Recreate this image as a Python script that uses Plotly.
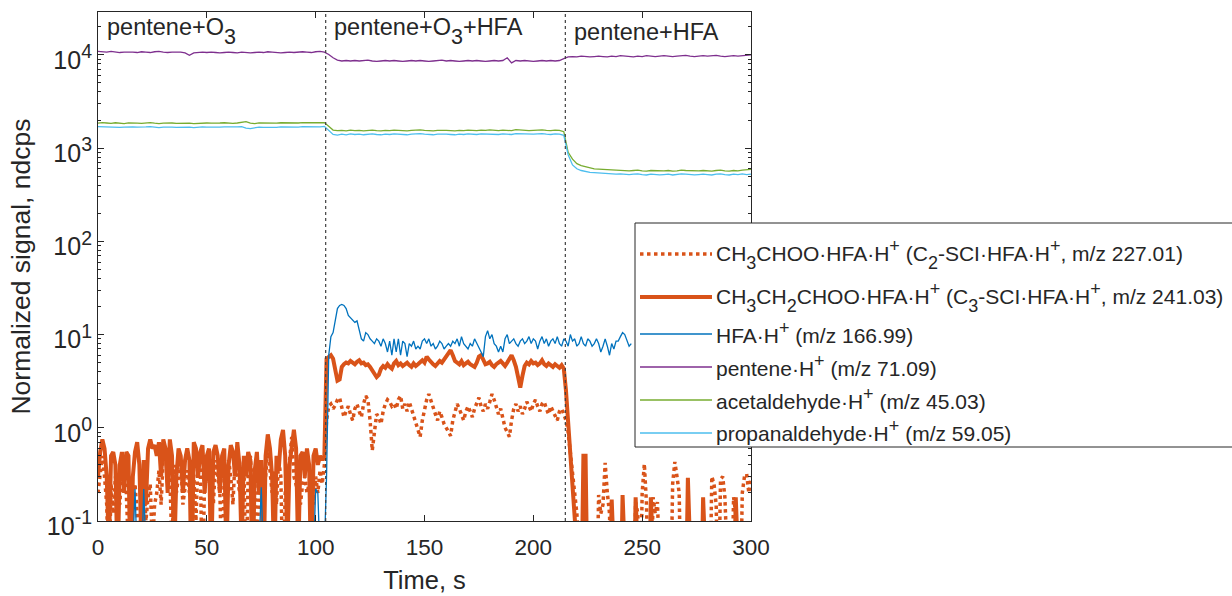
import plotly.graph_objects as go

# ---------------- data ----------------
series_names = [
    "CH<sub>3</sub>CHOO·HFA·H<sup>+</sup> (C<sub>2</sub>-SCI·HFA·H<sup>+</sup>, m/z 227.01)",
    "CH<sub>3</sub>CH<sub>2</sub>CHOO·HFA·H<sup>+</sup> (C<sub>3</sub>-SCI·HFA·H<sup>+</sup>, m/z 241.03)",
    "HFA·H<sup>+</sup> (m/z 166.99)",
    "pentene·H<sup>+</sup> (m/z 71.09)",
    "acetaldehyde·H<sup>+</sup> (m/z 45.03)",
    "propanaldehyde·H<sup>+</sup> (m/z 59.05)",
]
phase_labels = ["pentene+O<sub>3</sub>", "pentene+O<sub>3</sub>+HFA", "pentene+HFA"]
phase_starts = [0, 104.6, 214.7]
phase_bounds = [104.6, 214.7]

x_ticks = [0, 50, 100, 150, 200, 250, 300]
y_ticks = [0.1, 1, 10, 100, 1000, 10000]
y_ticktext = ["10<sup>-1</sup>", "10<sup>0</sup>", "10<sup>1</sup>", "10<sup>2</sup>",
              "10<sup>3</sup>", "10<sup>4</sup>"]

# 1-s sampled SCI signals (t = 0..300 s)
c2_sci = [
    0.2, 0.35, 0.5, 0.3, 0.15, 0.02, 0.25, 0.12, 0.3, 0.2,
    0.15, 0.35, 0.45, 0.2, 0.05, 0.3, 0.15, 0.25, 0.12, 0.02,
    0.2, 0.28, 0.1, 0.18, 0.25, 0.05, 0.15, 0.2, 0.35, 0.15,
    0.5, 0.55, 0.25, 0.3, 0.05, 0.4, 0.2, 0.3, 0.45, 0.15,
    0.25, 0.35, 0.2, 0.45, 0.3, 0.1, 0.5, 0.35, 0.02, 0.3,
    0.4, 0.25, 0.35, 0.15, 0.45, 0.3, 0.2, 0.02, 0.35, 0.25,
    0.45, 0.3, 0.15, 0.5, 0.35, 0.2, 0.3, 0.45, 0.02, 0.35,
    0.5, 0.2, 0.3, 0.05, 0.25, 0.4, 0.15, 0.3, 0.6, 0.35,
    0.2, 0.35, 0.15, 0.45, 0.3, 0.02, 0.2, 0.25, 0.5, 0.8,
    0.3, 0.25, 0.2, 0.15, 0.25, 0.3, 0.2, 0.25, 0.3, 0.15,
    0.3, 0.2, 0.35, 0.25, 0.4,
    1.2, 1.7, 1.8, 1.6, 1.75, 2.0, 2.1, 1.6, 1.3, 1.5,
    1.7, 1.4, 1.2, 1.6, 1.8, 1.5, 1.3, 1.8, 2.2, 2.0,
    1.2, 0.57, 1.0, 1.4, 1.3, 1.1, 1.5, 1.8, 2.0, 1.9,
    1.7, 1.8, 1.6, 2.0, 2.2, 1.6, 1.8, 1.5, 1.9, 1.6,
    1.4, 1.2, 0.95, 0.8, 1.2, 1.6, 2.0, 2.3, 1.9, 1.6,
    1.4, 1.2, 1.5, 1.3, 1.1, 1.0, 0.9, 0.82, 1.2, 1.5,
    1.8, 1.6, 1.4, 1.2, 1.5, 1.7, 1.5, 1.3, 1.6, 1.9,
    2.1, 1.7, 1.5, 1.8, 1.6, 1.9, 2.3, 2.0, 1.7, 1.4,
    1.6, 1.3, 1.0, 0.9, 0.8, 1.2, 1.6, 1.8, 1.5, 1.7,
    1.4, 1.6, 1.9, 1.7, 1.5, 1.8, 2.0, 1.7, 1.5, 1.8,
    1.9, 1.6, 1.4, 1.7, 1.5, 1.3, 1.2, 1.5, 1.6, 1.4,
    1.2, 0.9, 0.55, 0.35, 0.2, 0.12, 0.05, 0.01, 0.01, 0.01,
    0.01, 0.01, 0.01, 0.01, 0.01, 0.19, 0.12, 0.15, 0.42, 0.2,
    0.12, 0.01, 0.01, 0.01, 0.01, 0.01, 0.01, 0.01, 0.01, 0.01,
    0.01, 0.01, 0.16, 0.12, 0.01, 0.2, 0.41, 0.15, 0.01, 0.01,
    0.18, 0.12, 0.16, 0.01, 0.01, 0.01, 0.01, 0.01, 0.01, 0.25,
    0.43, 0.3, 0.2, 0.01, 0.01, 0.01, 0.01, 0.01, 0.01, 0.01,
    0.01, 0.01, 0.01, 0.01, 0.01, 0.01, 0.01, 0.3, 0.25, 0.15,
    0.01, 0.28, 0.3, 0.18, 0.01, 0.01, 0.01, 0.18, 0.12, 0.01,
    0.01, 0.2, 0.3, 0.32, 0.2, 0.3,
]
c3_sci = [
    0.3, 0.55, 0.75, 0.6, 0.3, 0.05, 0.5, 0.55, 0.4, 0.03,
    0.4, 0.55, 0.2, 0.55, 0.5, 0.02, 0.3, 0.55, 0.7, 0.4,
    0.05, 0.45, 0.15, 0.6, 0.75, 0.6, 0.65, 0.5, 0.7, 0.3,
    0.75, 0.6, 0.2, 0.75, 0.5, 0.04, 0.3, 0.6, 0.5, 0.2,
    0.45, 0.6, 0.45, 0.02, 0.7, 0.6, 0.3, 0.55, 0.65, 0.2,
    0.5, 0.6, 0.03, 0.55, 0.65, 0.5, 0.2, 0.5, 0.6, 0.04,
    0.4, 0.65, 0.55, 0.3, 0.7, 0.4, 0.05, 0.5, 0.3, 0.55,
    0.45, 0.02, 0.35, 0.55, 0.2, 0.45, 0.02, 0.5, 0.85, 0.6,
    0.3, 0.03, 0.5, 0.35, 0.75, 0.95, 0.5, 0.05, 0.4, 0.6,
    0.95, 0.6, 0.04, 0.5, 0.55, 0.3, 0.6, 0.4, 0.02, 0.5,
    0.6, 0.4, 0.5, 0.45, 0.5,
    5.5, 5.8, 6.0, 5.5, 4.0, 3.2, 3.3, 4.5, 4.8, 5.0,
    4.9, 5.2, 5.0, 4.8, 5.1, 5.3, 4.9, 5.0, 4.7, 4.8,
    4.5, 4.2, 3.8, 3.5, 3.7, 4.3, 4.6, 4.4, 4.8, 4.5,
    4.3, 4.9, 5.2, 4.7, 4.9, 4.6, 4.8, 5.0, 4.7, 4.5,
    4.9, 4.6, 4.8, 5.1, 5.3, 5.0, 5.8, 5.4, 5.0, 4.8,
    4.6, 4.9, 5.2, 5.0, 5.4, 5.8, 6.3, 6.8, 6.0, 5.2,
    5.0, 4.8, 5.2, 4.7, 4.9, 5.1, 4.8, 4.6, 4.5, 5.0,
    5.8, 6.0, 5.4, 4.8, 4.9, 5.1, 4.7, 4.5, 4.8, 5.0,
    5.2, 4.9, 4.6, 5.0, 5.5, 6.0, 5.3, 4.5, 3.5, 2.7,
    3.6, 4.6, 5.0, 4.8, 5.2, 4.9, 5.0, 4.7, 4.9, 5.3,
    4.8, 4.6, 4.9, 4.7, 4.5, 4.8, 4.6, 4.4, 4.7, 4.3,
    2.5, 1.2, 0.6, 0.3, 0.15, 0.05, 0.01, 0.01, 0.5, 0.5,
    0.01, 0.01, 0.01, 0.01, 0.01, 0.01, 0.01, 0.01, 0.01, 0.01,
    0.01, 0.17, 0.01, 0.01, 0.01, 0.01, 0.19, 0.01, 0.01, 0.01,
    0.01, 0.01, 0.18, 0.01, 0.01, 0.01, 0.01, 0.01, 0.01, 0.18,
    0.01, 0.01, 0.01, 0.01, 0.01, 0.01, 0.01, 0.01, 0.01, 0.01,
    0.01, 0.01, 0.01, 0.01, 0.01, 0.01, 0.29, 0.01, 0.01, 0.01,
    0.01, 0.01, 0.01, 0.18, 0.01, 0.01, 0.01, 0.01, 0.01, 0.01,
    0.01, 0.01, 0.01, 0.01, 0.01, 0.01, 0.01, 0.01, 0.18, 0.01,
    0.01, 0.01, 0.01, 0.01, 0.01, 0.01,
]
# 1-s sampled HFA·H+ (t = 0..245 s)
hfa = [
    0.02, 0.03, 0.02, 0.01, 0.02, 0.03, 0.02, 0.02, 0.01, 0.02,
    0.03, 0.02, 0.02, 0.01, 0.02, 0.03, 0.05, 0.22, 0.04, 0.02,
    0.03, 0.22, 0.05, 0.02, 0.01, 0.02, 0.03, 0.02, 0.02, 0.01,
    0.02, 0.03, 0.02, 0.02, 0.03, 0.02, 0.01, 0.02, 0.03, 0.02,
    0.02, 0.01, 0.02, 0.03, 0.02, 0.02, 0.03, 0.02, 0.01, 0.02,
    0.03, 0.02, 0.02, 0.01, 0.02, 0.03, 0.02, 0.02, 0.03, 0.02,
    0.01, 0.02, 0.03, 0.02, 0.02, 0.03, 0.02, 0.01, 0.02, 0.03,
    0.02, 0.02, 0.03, 0.02, 0.05, 0.23, 0.04, 0.02, 0.03, 0.02,
    0.02, 0.01, 0.02, 0.03, 0.02, 0.02, 0.03, 0.02, 0.01, 0.02,
    0.03, 0.02, 0.02, 0.01, 0.02, 0.03, 0.02, 0.02, 0.03, 0.04,
    0.22, 0.2, 0.04, 0.03, 0.05,
    0.3, 6.0, 9.5, 10.5, 14, 19, 20.5, 21, 20.5, 19,
    16, 15, 14, 13.5, 14, 11, 9, 8.5, 10.5, 10,
    9, 8.5, 8, 9, 8.5, 7.5, 9, 8, 6.5, 8.5,
    6, 9, 6.5, 9, 6, 8.5, 8, 5.8, 8, 7.5,
    8.5, 7, 7.5, 7, 8.5, 9, 8, 9, 7.5, 8,
    7, 7.5, 8.5, 8, 7, 7.5, 8, 7.5, 8.5, 8,
    9, 7.5, 9.5, 8, 7.5, 7, 8, 7.5, 9, 8,
    7, 6.5, 5.8, 9.5, 11, 9, 10, 8, 7.5, 6.5,
    7.5, 6.5, 9, 10, 8, 8.5, 9, 8, 7.5, 8.5,
    9, 8, 8.5, 9.5, 8, 9, 8.5, 7, 8.5, 9.5,
    8, 9, 7.5, 8.5, 9, 8, 9.5, 8, 7.5, 9,
    8.5, 7.5, 10, 8.5, 9, 7.5, 8, 9.5, 8, 7.5,
    9, 8.5, 7.5, 8, 9, 8, 6.5, 7.5, 9, 7.5,
    6, 8, 7, 8.5, 8.5, 9.5, 10.5, 10, 8.5, 7.5,
    8,
]
# 2-s sampled reagent/product signals (t = 0..300 s)
pentene = [
    10900, 10800, 10700, 10900, 10800, 10600, 10700, 10800, 10700, 10600,
    10800, 10700, 10600, 10800, 10900, 10700, 10600, 10700, 10800, 10700,
    10500, 9900, 10500, 10600, 10700, 10600, 10700, 10600, 10500, 10600,
    10700, 10600, 10500, 10700, 10600, 10500, 10600, 10700, 10600, 10800,
    10700, 10600, 10500, 10600, 10700, 10600, 10700, 10800, 10700, 10600,
    10800, 10900, 10700, 10100, 9300, 8800, 8600, 8700, 8600, 8700,
    8600, 8700, 8800, 8600, 8500, 8600, 8700, 8600, 8700, 8600,
    8500, 8600, 8700, 8600, 8700, 8600, 8500, 8600, 8700, 8800,
    8600, 8700, 8600, 8500, 8600, 8700, 8600, 8700, 8600, 8500,
    8600, 8700, 8600, 8700, 9300, 8200, 8700, 8600, 8700, 8600,
    8500, 8600, 8700, 8600, 8700, 8600, 8700, 9100, 9500, 9600,
    9500, 9700, 9600, 9500, 9600, 9700, 9600, 9500, 9700, 9600,
    9800, 9700, 9600, 9500, 9700, 9600, 9800, 9700, 9600, 9700,
    9800, 9700, 9600, 9700, 9800, 9900, 9700, 9600, 9700, 9800,
    9700, 9800, 9900, 9700, 9600, 9700, 9800, 9700, 9800, 9900,
    10000,
]
acetaldehyde = [
    1850, 1880, 1860, 1840, 1870, 1850, 1830, 1860, 1870, 1850,
    1840, 1860, 1880, 1850, 1830, 1850, 1870, 1860, 1840, 1850,
    1860, 1850, 1830, 1850, 1870, 1860, 1850, 1840, 1860, 1870,
    1850, 1840, 1860, 1880, 1920, 1850, 1830, 1860, 1850, 1840,
    1860, 1850, 1870, 1860, 1850, 1840, 1860, 1880, 1870, 1860,
    1880, 1870, 1880, 1700, 1560, 1540, 1550, 1530, 1560, 1540,
    1550, 1530, 1540, 1560, 1540, 1530, 1550, 1540, 1560, 1550,
    1540, 1530, 1550, 1560, 1570, 1550, 1540, 1530, 1550, 1560,
    1550, 1540, 1530, 1550, 1540, 1560, 1550, 1540, 1560, 1550,
    1570, 1550, 1540, 1560, 1550, 1540, 1580, 1560, 1550, 1540,
    1550, 1560, 1570, 1550, 1540, 1560, 1550, 1500, 900, 760,
    680, 650, 630, 610, 600, 595, 590, 590, 580, 575,
    580, 575, 570, 575, 580, 570, 565, 575, 570, 565,
    570, 575, 565, 570, 580, 575, 570, 565, 570, 575,
    570, 565, 575, 580, 570, 565, 575, 570, 580, 585,
    590,
]
propanaldehyde = [
    1700, 1690, 1680, 1700, 1690, 1670, 1680, 1700, 1690, 1680,
    1670, 1690, 1700, 1680, 1660, 1680, 1690, 1680, 1670, 1680,
    1690, 1680, 1660, 1680, 1690, 1680, 1670, 1660, 1680, 1690,
    1680, 1670, 1690, 1700, 1640, 1620, 1660, 1680, 1670, 1660,
    1680, 1670, 1690, 1680, 1670, 1660, 1680, 1700, 1690, 1680,
    1700, 1690, 1710, 1560, 1400, 1380, 1410, 1390, 1420, 1400,
    1410, 1390, 1400, 1420, 1400, 1390, 1410, 1400, 1420, 1410,
    1400, 1390, 1410, 1420, 1430, 1410, 1400, 1390, 1410, 1420,
    1410, 1400, 1390, 1410, 1400, 1420, 1410, 1400, 1420, 1410,
    1420, 1410, 1400, 1420, 1410, 1400, 1430, 1420, 1410, 1400,
    1410, 1420, 1430, 1410, 1400, 1420, 1410, 1370, 850, 660,
    600, 575, 560, 550, 545, 540, 535, 540, 530, 525,
    530, 525, 520, 525, 530, 520, 515, 525, 520, 515,
    520, 525, 515, 520, 530, 525, 520, 515, 520, 525,
    520, 515, 525, 530, 520, 515, 525, 520, 530, 520,
    525,
]

# ---------------- styles ----------------
colors = ["#D95319", "#D95319", "#0072BD", "#7E2F8E", "#77AC30", "#4DBEEE"]
widths = [3.5, 4, 1.3, 1.3, 1.3, 1.3]
dashes = ["dot", "solid", "solid", "solid", "solid", "solid"]
AX = "#262626"
FONT = "Liberation Sans, Arial, sans-serif"


def big_scripts(text, size, sub_shift):
    """MATLAB-like sub/superscripts (close to full size, subscript well lowered)."""
    sp = "<span style='font-size:%spx'>" % size
    sb = "<span style='font-size:%spx;baseline-shift:-%spx'>" % (size, sub_shift)
    return (text.replace("<sub>", sb).replace("</sub>", "</span>")
                .replace("<sup>", "<sup>" + sp).replace("</sup>", "</span></sup>"))


t1 = list(range(len(c2_sci)))
t1b = list(range(len(c3_sci)))
th = list(range(len(hfa)))
t2 = [2 * i for i in range(len(pentene))]

series = [(t1, c2_sci), (t1b, c3_sci), (th, hfa), (t2, pentene), (t2, acetaldehyde), (t2, propanaldehyde)]

fig = go.Figure()
for (x, y), nm, c, w, d in zip(series, series_names, colors, widths, dashes):
    fig.add_trace(go.Scatter(x=x, y=y, mode="lines", name=nm, showlegend=False,
                             line=dict(color=c, width=w, dash=d)))

# phase boundaries
for b in phase_bounds:
    fig.add_shape(type="line", xref="x", yref="paper", x0=b, x1=b, y0=0, y1=1,
                  line=dict(color="#404040", width=1.2, dash="dot"), layer="above")

L, R, T, B = 98, 751, 12, 521
W, H = R - L, B - T
def px(xp): return (xp - L) / W
def py(yp): return (B - yp) / H

# phase labels
for lbl, s in zip(phase_labels, phase_starts):
    fig.add_annotation(x=s + 3.0, y=py(32), xref="x", yref="paper",
                       text=big_scripts(lbl, 21.5, 9),
                       showarrow=False, xanchor="left", yanchor="middle",
                       font=dict(size=23.5, color=AX, family=FONT))

# manual legend
fig.add_shape(type="rect", xref="paper", yref="paper", x0=px(635), x1=px(1245),
              y0=py(447), y1=py(223), line=dict(color=AX, width=1), fillcolor="white",
              layer="above")
row_y = [254, 297, 334, 367, 400, 433]
text_dy = [0, 0, -2, -2, -2, -2]
for nm, c, w, d, ry, dy in zip(series_names, colors, widths, dashes, row_y, text_dy):
    fig.add_shape(type="line", xref="paper", yref="paper", x0=px(640), x1=px(712),
                  y0=py(ry), y1=py(ry), line=dict(color=c, width=w, dash=d), layer="above")
    fig.add_annotation(x=px(714), y=py(ry + dy), xref="paper", yref="paper",
                       text=big_scripts(nm, 18, 7.5),
                       showarrow=False, xanchor="left", yanchor="middle",
                       font=dict(size=21, color=AX, family=FONT))

minor_vals = [m * 10 ** e for e in range(-1, 5) for m in range(2, 10)]

fig.update_layout(
    width=1232, height=596,
    margin=dict(l=L, r=1232 - R, t=T, b=596 - B, autoexpand=False),
    plot_bgcolor="white", paper_bgcolor="white",
    font=dict(family=FONT, color=AX),
    xaxis=dict(range=[0, 300], tickvals=x_ticks, ticks="inside", ticklen=6,
               tickcolor=AX, showline=True, linecolor=AX, linewidth=1, mirror="allticks",
               showgrid=False, zeroline=False, tickfont=dict(size=22.5, color=AX),
               ticklabelstandoff=6, automargin=False,
               title=dict(text="Time, s", font=dict(size=25.5, color=AX), standoff=12)),
    yaxis=dict(type="log", range=[-1, 4.46], tickvals=y_ticks,
               ticktext=[big_scripts(t, 19.5, 0) for t in y_ticktext],
               ticks="inside", ticklen=6, tickcolor=AX, showline=True, linecolor=AX,
               linewidth=1, mirror="allticks", showgrid=False, zeroline=False,
               tickfont=dict(size=25, color=AX), ticklabelshift=5, automargin=False,
               minor=dict(ticks="inside", ticklen=3, tickcolor=AX, tickvals=minor_vals,
                          showgrid=False),
               title=dict(text="Normalized signal, ndcps", font=dict(size=26.5, color=AX),
                          standoff=8)),
)

fig.write_html("out.html")
